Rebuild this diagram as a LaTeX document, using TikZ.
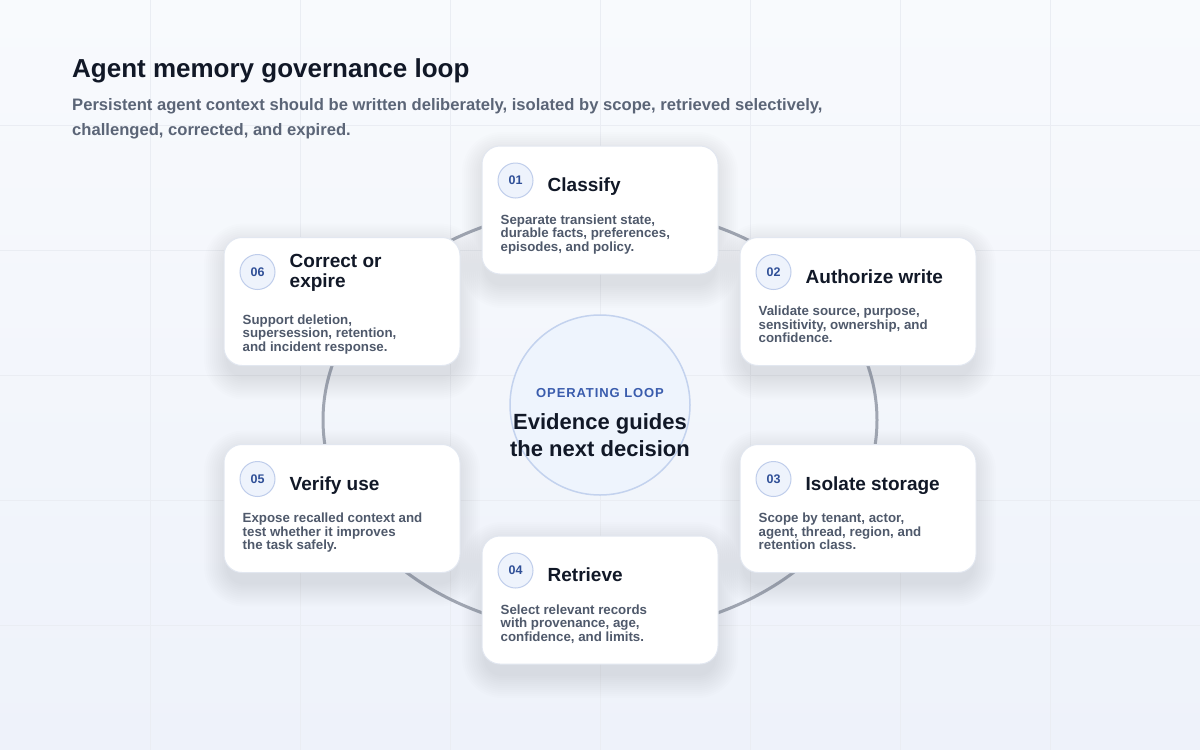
\documentclass[tikz,border=0pt]{standalone}
\usepackage{fontspec}
\setmainfont{Liberation Sans}
\newfontfamily\spacedfont[LetterSpace=7]{Liberation Sans}
\usepackage{tikz}
\usetikzlibrary{positioning,calc}

\definecolor{bgtop}{HTML}{F8FAFD}
\definecolor{bgbot}{HTML}{EEF2FA}
\definecolor{gridline}{HTML}{EAEDF3}
\definecolor{ink}{HTML}{111827}
\definecolor{slate}{HTML}{5B6577}
\definecolor{desctext}{HTML}{4F596B}
\definecolor{ringgray}{HTML}{A0A6B2}
\definecolor{cardline}{HTML}{E2E7F0}
\definecolor{shadowcol}{HTML}{26304A}
\definecolor{badgefill}{HTML}{EEF3FC}
\definecolor{badgeline}{HTML}{BFCDEB}
\definecolor{badgetext}{HTML}{2F4F97}
\definecolor{hubfill}{HTML}{EEF4FD}
\definecolor{hubline}{HTML}{C3D2EE}
\definecolor{hubtext}{HTML}{3A5CAD}

\begin{document}
\begin{tikzpicture}[x=1pt, y=-1pt,
    card/.style={rectangle, draw=cardline, line width=1pt, fill=white, rounded corners=18pt, minimum width=236pt, minimum height=128pt},
    badge/.style={circle, draw=badgeline, line width=1pt, fill=badgefill, minimum size=35pt, inner sep=0pt, text=badgetext, font=\bfseries\fontsize{12.5}{12.5}\selectfont},
    head/.style={anchor=base west, inner sep=0pt, text=ink, align=left, font=\bfseries\fontsize{19}{20}\selectfont},
    desc/.style={inner sep=0pt, text=desctext, align=left, font=\bfseries\fontsize{13.3}{13.5}\selectfont},
    ring/.style={draw=ringgray, line width=3pt}]

    \useasboundingbox (0,0) rectangle (1200,750);
    \shade[top color=bgtop, bottom color=bgbot] (0,0) rectangle (1200,750);
    \foreach \gx in {150,300,...,1050} \draw[gridline, line width=0.8pt] (\gx,0) -- (\gx,750);
    \foreach \gy in {125,250,...,625} \draw[gridline, line width=0.8pt] (0,\gy) -- (1200,\gy);

    % Header
    \node[anchor=base west, inner sep=0pt, text=ink, font=\bfseries\fontsize{26}{30}\selectfont] (title) at (72,77) {Agent memory governance loop};
    \node[anchor=north west, inner sep=0pt, text=slate, align=left, font=\bfseries\fontsize{16.6}{25}\selectfont] (subtitle) at (72,98)
        {Persistent agent context should be written deliberately, isolated by scope, retrieved selectively,\\challenged, corrected, and expired.};

    % Loop ring and hub
    \draw[ring] (600,420) ellipse [x radius=277pt, y radius=213pt];
    \node[circle, draw=hubline, line width=1.5pt, fill=hubfill, minimum size=180pt] (hub) at (600,405) {};
    \node[inner sep=0pt, text=hubtext, font=\spacedfont\bfseries\fontsize{13}{13}\selectfont] (hublabel) at (600,393) {OPERATING LOOP};
    \node[inner sep=0pt, text=ink, align=center, font=\bfseries\fontsize{22}{27}\selectfont] (hubtitle) at (600,435.5) {Evidence guides\\the next decision};

    % Step positions and soft shadows
    \coordinate (p1) at (600,210);
    \coordinate (p2) at (858,301.5);
    \coordinate (p3) at (858,508.5);
    \coordinate (p4) at (600,600);
    \coordinate (p5) at (342,508.5);
    \coordinate (p6) at (342,301.5);
    \foreach \i in {1,...,6}
        \foreach \k in {0,...,11} {
            \pgfmathsetmacro\rc{18+2*\k}
            \fill[shadowcol, opacity=0.009, rounded corners=\rc pt] ($(p\i)+(-116-2*\k,-56-2*\k)$) rectangle ($(p\i)+(116+2*\k,76+2*\k)$);
        }

    % Steps
    \node[card] (c1) at (p1) {};
    \node[badge] (b1) at ($(c1.north west)+(34,35)$) {01};
    \node[head] (t1) at ($(b1.east)+(14,11)$) {Classify};
    \node[desc, below right=69pt and 19pt of c1.north west] (d1) {Separate transient state,\\durable facts, preferences,\\episodes, and policy.};

    \node[card] (c2) at (p2) {};
    \node[badge] (b2) at ($(c2.north west)+(34,35)$) {02};
    \node[head] (t2) at ($(b2.east)+(14,11)$) {Authorize write};
    \node[desc, below right=69pt and 19pt of c2.north west] (d2) {Validate source, purpose,\\sensitivity, ownership, and\\confidence.};

    \node[card] (c3) at (p3) {};
    \node[badge] (b3) at ($(c3.north west)+(34,35)$) {03};
    \node[head] (t3) at ($(b3.east)+(14,11)$) {Isolate storage};
    \node[desc, below right=69pt and 19pt of c3.north west] (d3) {Scope by tenant, actor,\\agent, thread, region, and\\retention class.};

    \node[card] (c4) at (p4) {};
    \node[badge] (b4) at ($(c4.north west)+(34,35)$) {04};
    \node[head] (t4) at ($(b4.east)+(14,11)$) {Retrieve};
    \node[desc, below right=69pt and 19pt of c4.north west] (d4) {Select relevant records\\with provenance, age,\\confidence, and limits.};

    \node[card] (c5) at (p5) {};
    \node[badge] (b5) at ($(c5.north west)+(34,35)$) {05};
    \node[head] (t5) at ($(b5.east)+(14,11)$) {Verify use};
    \node[desc, below right=69pt and 19pt of c5.north west] (d5) {Expose recalled context and\\test whether it improves\\the task safely.};

    \node[card] (c6) at (p6) {};
    \node[badge] (b6) at ($(c6.north west)+(34,35)$) {06};
    \node[head, anchor=west] (t6) at ($(b6.east)+(14,1)$) {Correct or\\expire};
    \node[desc, below right=77.5pt and 19pt of c6.north west] (d6) {Support deletion,\\supersession, retention,\\and incident response.};

\end{tikzpicture}
\end{document}
